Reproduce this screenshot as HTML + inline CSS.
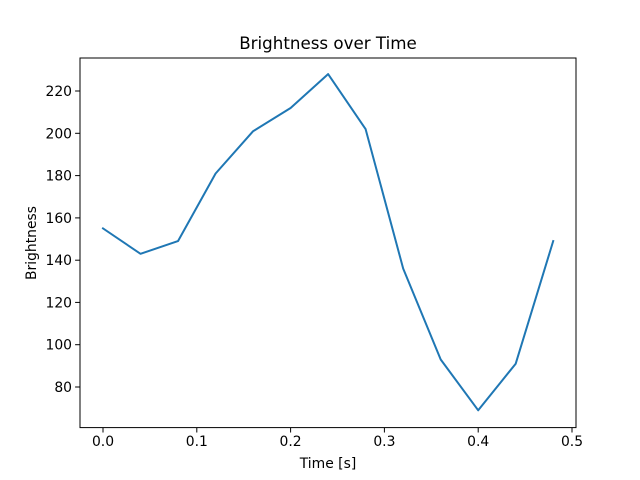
<!DOCTYPE html>
<html><head><meta charset="utf-8"><style>body{margin:0;background:#fff}svg{display:block}</style></head><body>
<svg width="640" height="480" viewBox="0 0 640 480" font-family="DejaVu Sans, Liberation Sans, sans-serif">
<rect width="640" height="480" fill="#fff"/>
<polyline fill="none" stroke="#1f77b4" stroke-width="2" stroke-linejoin="round" stroke-linecap="square" points="103,228.4 140.5,253.8 178,241.1 215.6,173.5 253.1,131.2 290.6,108 328.1,74.1 365.6,129.1 403.2,268.6 440.7,359.5 478.2,410.3 515.7,363.7 553.2,241.1"/>
<rect x="80" y="58" width="496" height="369.6" fill="none" stroke="#000" stroke-width="1"/>
<g stroke="#000" stroke-width="1">
<line x1="103" y1="427.6" x2="103" y2="432.5"/><line x1="196.8" y1="427.6" x2="196.8" y2="432.5"/><line x1="290.6" y1="427.6" x2="290.6" y2="432.5"/><line x1="384.4" y1="427.6" x2="384.4" y2="432.5"/><line x1="478.2" y1="427.6" x2="478.2" y2="432.5"/><line x1="572" y1="427.6" x2="572" y2="432.5"/>
<line x1="75.1" y1="387" x2="80" y2="387"/><line x1="75.1" y1="344.7" x2="80" y2="344.7"/><line x1="75.1" y1="302.4" x2="80" y2="302.4"/><line x1="75.1" y1="260.2" x2="80" y2="260.2"/><line x1="75.1" y1="217.9" x2="80" y2="217.9"/><line x1="75.1" y1="175.6" x2="80" y2="175.6"/><line x1="75.1" y1="133.3" x2="80" y2="133.3"/><line x1="75.1" y1="91" x2="80" y2="91"/>
</g>
<g font-size="13.9" fill="#000" text-anchor="middle">
<text x="103" y="446">0.0</text><text x="196.8" y="446">0.1</text><text x="290.6" y="446">0.2</text><text x="384.4" y="446">0.3</text><text x="478.2" y="446">0.4</text><text x="572" y="446">0.5</text>
</g>
<g font-size="13.9" fill="#000" text-anchor="end">
<text x="72" y="392">80</text><text x="72" y="349.7">100</text><text x="72" y="307.4">120</text><text x="72" y="265.2">140</text><text x="72" y="222.9">160</text><text x="72" y="180.6">180</text><text x="72" y="138.3">200</text><text x="72" y="96">220</text>
</g>
<text x="328" y="468" font-size="13.9" text-anchor="middle">Time [s]</text>
<text transform="translate(36,243) rotate(-90)" font-size="13.9" text-anchor="middle">Brightness</text>
<text x="328" y="49" font-size="16.7" text-anchor="middle">Brightness over Time</text>
</svg>
</body></html>
